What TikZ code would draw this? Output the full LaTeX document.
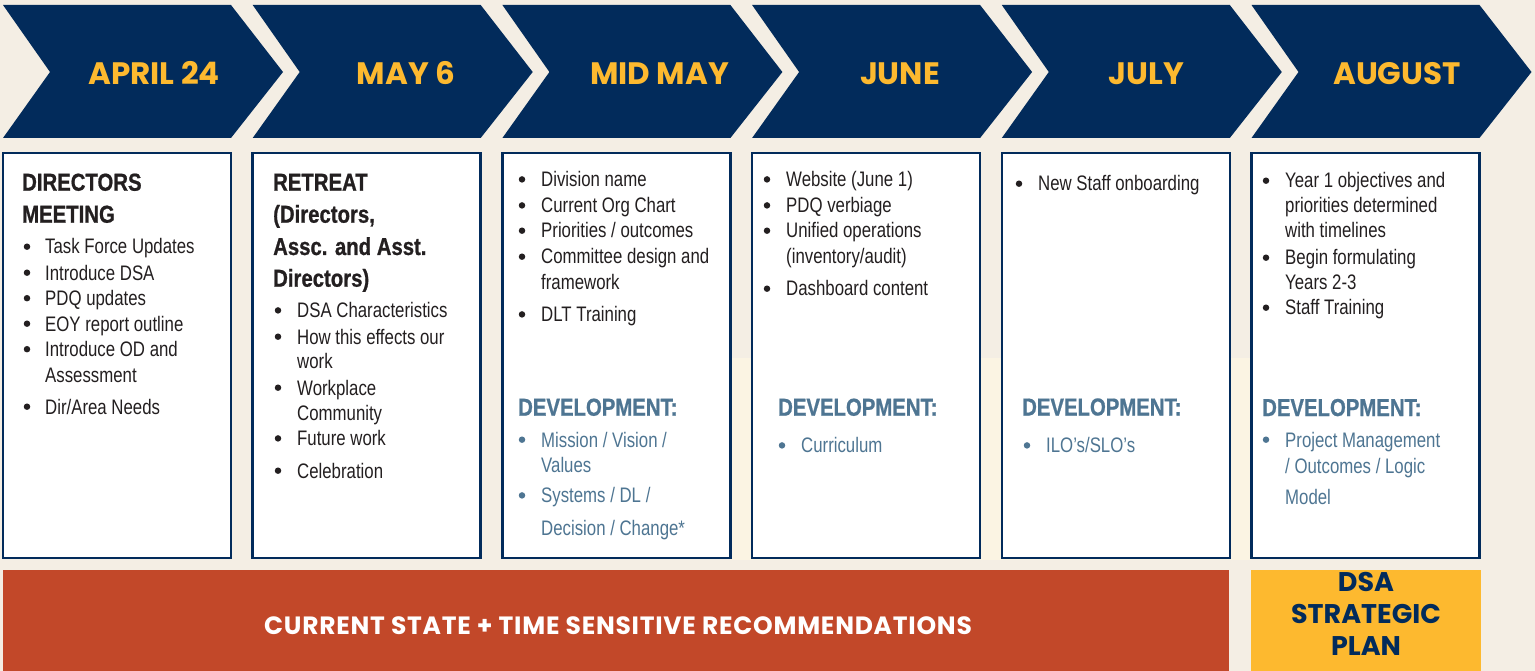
\documentclass[tikz,border=0pt]{standalone}
\usepackage{fontspec}
\setmainfont{Liberation Sans}
\newfontfamily\bodyfont{Liberation Sans}[FakeStretch=0.8]
\newfontfamily\boldfont{Liberation Sans Bold}[FakeStretch=0.83, FakeBold=0.8]
\newfontfamily\popfont{Poppins}
\definecolor{bg}{HTML}{F4EEE4}
\definecolor{bglight}{HTML}{FBF4E3}
\definecolor{navy}{HTML}{022B5B}
\definecolor{gold}{HTML}{FDB92F}
\definecolor{brick}{HTML}{C24829}
\definecolor{ink}{HTML}{231F20}
\definecolor{slate}{HTML}{4E7592}
\tikzset{
  chev/.style={fill=navy},
  hdr/.style={anchor=base, inner sep=0pt, text=gold, font=\popfont\bfseries\fontsize{31}{31}\selectfont},
  cardbox/.style={draw=navy, line width=2.5pt, fill=white},
  txt/.style={anchor=base west, inner sep=0pt, text=ink, font=\bodyfont\fontsize{21}{25}\selectfont},
  hd/.style={anchor=base west, inner sep=0pt, text=ink, font=\boldfont\fontsize{24.5}{30}\selectfont},
  devhd/.style={hd, text=slate},
  devtxt/.style={txt, text=slate},
  dot/.style={circle, fill=ink, inner sep=0pt, minimum size=6.5pt},
  devdot/.style={dot, fill=slate},
  bartxt/.style={anchor=base, inner sep=0pt, text=white, font=\popfont\bfseries\fontsize{25}{25}\selectfont\addfontfeature{LetterSpace=3}},
  plantxt/.style={anchor=base, inner sep=0pt, text=navy, font=\popfont\bfseries\fontsize{27}{27}\selectfont},
}
\begin{document}
\begin{tikzpicture}[x=1pt,y=-1pt]
\useasboundingbox (0,0) rectangle (1535,671);
\fill[bg] (0,0) rectangle (1535,671);
\fill[bglight] (730,358) rectangle (1251,560);
% chevrons
\foreach \L/\lab/\cx/\nm in {3/APRIL 24/154/h1, 252.7/MAY 6/406/h2, 502.4/MID MAY/659.5/h3, 752.1/JUNE/900/h4, 1001.8/JULY/1146.5/h5, 1251.5/AUGUST/1397/h6}{
  \path[chev] (\L,5) -- ++(228,0) -- ++(52,67) -- ++(-52,66) -- ++(-228,0) -- ++(47,-66) -- cycle;
  \node[hdr] (\nm) at (\cx,85) {\lab};
  \draw[cardbox] (\L,153) rectangle ++(228,405);
}
% box 1
\node[hd] (b1h1) at (22,190.7) {DIRECTORS};
\node[hd] (b1h2) at (22,222.7) {MEETING};
\foreach \y/\t/\nm in {254/Task Force Updates/a, 280/Introduce DSA/b, 305.5/PDQ updates/c, 331/EOY report outline/d, 356.5/Introduce OD and/e, 414/Dir\slash Area Needs/g}{
  \node[dot] (b1d\nm) at (27,\y-7.3) {};
  \node[txt] (b1t\nm) at (45,\y) {\t};
}
\node[txt] (b1tf) at (45,382) {Assessment};
% box 2
\node[hd] (b2h1) at (273,190.7) {RETREAT};
\node[hd] (b2h2) at (273,222.7) {(Directors,};
\node[hd] (b2h3) at (273,255) {Assc. and Asst.};
\node[hd] (b2h4) at (273,286.7) {Directors)};
\foreach \y/\t/\nm in {317.7/DSA Characteristics/a, 344/How this effects our/b, 395/Workplace/d, 445.7/Future work/f, 478/Celebration/g}{
  \node[dot] (b2d\nm) at (278,\y-7.3) {};
  \node[txt] (b2t\nm) at (297,\y) {\t};
}
\node[txt] (b2tc) at (297,368.5) {work};
\node[txt] (b2te) at (297,420) {Community};
% box 3
\foreach \y/\t/\nm in {186.7/Division name/a, 212.7/Current Org Chart/b, 238/Priorities \slash{} outcomes/c, 264/Committee design and/d, 321.7/DLT Training/f}{
  \node[dot] (b3d\nm) at (522,\y-7.3) {};
  \node[txt] (b3t\nm) at (541,\y) {\t};
}
\node[txt] (b3te) at (541,290) {framework};
\node[devhd] (b3dev) at (518,415.7) {DEVELOPMENT:};
\node[devdot] (b3ddA) at (522,447-7.3) {};
\node[devtxt] (b3dtA) at (541,447) {Mission / Vision /};
\node[devtxt] (b3dtB) at (541,472.7) {Values};
\node[devdot] (b3ddC) at (522,502.7-7.3) {};
\node[devtxt] (b3dtC) at (541,502.7) {Systems / DL /};
\node[devtxt] (b3dtD) at (541,535) {Decision / Change*};
% box 4
\foreach \y/\t/\nm in {186.7/Website (June 1)/a, 212.7/PDQ verbiage/b, 238/Unified operations/c, 296/Dashboard content/e}{
  \node[dot] (b4d\nm) at (767,\y-7.3) {};
  \node[txt] (b4t\nm) at (786,\y) {\t};
}
\node[txt] (b4td) at (786,264) {(inventory/audit)};
\node[devhd] (b4dev) at (778,415.7) {DEVELOPMENT:};
\node[devdot] (b4ddA) at (782,452.7-7.3) {};
\node[devtxt] (b4dtA) at (801,452.7) {Curriculum};
% box 5
\node[dot] (b5da) at (1019,191-7.3) {};
\node[txt] (b5ta) at (1038,191) {New Staff onboarding};
\node[devhd] (b5dev) at (1022,415.5) {DEVELOPMENT:};
\node[devdot] (b5ddA) at (1027,452.7-7.3) {};
\node[devtxt] (b5dtA) at (1046,452.7) {ILO’s/SLO’s};
% box 6
\foreach \y/\t/\nm in {188/Year 1 objectives and/a, 265/Begin formulating/d, 315/Staff Training/f}{
  \node[dot] (b6d\nm) at (1266,\y-7.3) {};
  \node[txt] (b6t\nm) at (1285,\y) {\t};
}
\node[txt] (b6tb) at (1285,213) {priorities determined};
\node[txt] (b6tc) at (1285,238) {with timelines};
\node[txt] (b6te) at (1285,290) {Years 2-3};
\node[devhd] (b6dev) at (1262,416) {DEVELOPMENT:};
\node[devdot] (b6ddA) at (1266,447-7.3) {};
\node[devtxt] (b6dtA) at (1285,447) {Project Management};
\node[devtxt] (b6dtB) at (1285,473) {/ Outcomes / Logic};
\node[devtxt] (b6dtC) at (1285,504) {Model};
% bottom bars
\fill[brick] (3,570) rectangle (1229,671);
\fill[gold] (1251,570) rectangle (1481,671);
\node[bartxt] (bar) at (618,634.3) {CURRENT STATE + TIME SENSITIVE RECOMMENDATIONS};
\node[plantxt] (p1) at (1366,591.7) {DSA};
\node[plantxt] (p2) at (1366,623.3) {STRATEGIC};
\node[plantxt] (p3) at (1366,655.5) {PLAN};
\end{tikzpicture}
\end{document}
